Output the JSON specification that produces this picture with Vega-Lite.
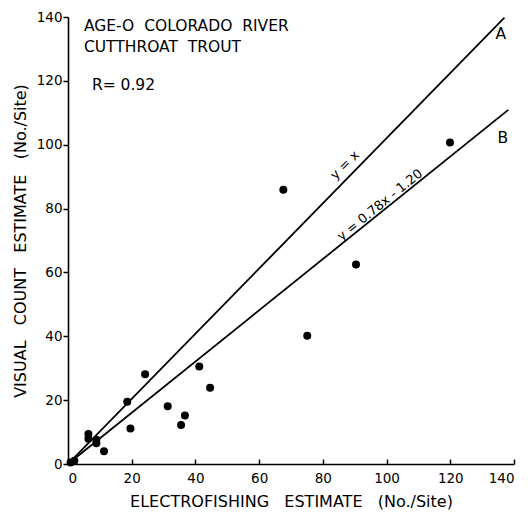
{
  "$schema": "https://vega.github.io/schema/vega-lite/v6.json",
  "width": 446,
  "height": 447,
  "autosize": {"type": "none"},
  "padding": {"left": 68, "top": 17, "right": 14, "bottom": 52},
  "background": "white",
  "config": {
    "view": {"stroke": null},
    "font": "DejaVu Sans",
    "axis": {
      "grid": false,
      "domainColor": "black",
      "domainWidth": 1.6,
      "tickColor": "black",
      "tickWidth": 1.5,
      "labelColor": "black",
      "labelFont": "DejaVu Sans",
      "labelFontSize": 13.5,
      "titleColor": "black",
      "titleFont": "DejaVu Sans",
      "titleFontSize": 14,
      "titleFontWeight": "normal"
    }
  },
  "datasets": {
    "pts": [
      {"elec": 0.8, "vis": 0.5},
      {"elec": 2.0, "vis": 1.0},
      {"elec": 6.4, "vis": 9.4},
      {"elec": 6.4, "vis": 7.9},
      {"elec": 8.9, "vis": 7.6},
      {"elec": 8.9, "vis": 6.5},
      {"elec": 11.3, "vis": 4.0},
      {"elec": 18.6, "vis": 19.5},
      {"elec": 19.6, "vis": 11.1},
      {"elec": 24.2, "vis": 28.1},
      {"elec": 31.3, "vis": 18.1},
      {"elec": 35.5, "vis": 12.2},
      {"elec": 36.7, "vis": 15.2},
      {"elec": 41.2, "vis": 30.5},
      {"elec": 44.6, "vis": 23.9},
      {"elec": 67.6, "vis": 85.9},
      {"elec": 75.1, "vis": 40.2},
      {"elec": 90.4, "vis": 62.5},
      {"elec": 119.9, "vis": 100.7}
    ],
    "lines": [
      {"line": "A", "elec": 0, "vis": 0},
      {"line": "A", "elec": 137, "vis": 139.8},
      {"line": "B", "elec": 0, "vis": 0},
      {"line": "B", "elec": 138.2, "vis": 110.9}
    ],
    "notes": [
      {"elec": 5.0, "vis": 137.3, "txt": "AGE-O\u00a0\u00a0COLORADO\u00a0\u00a0RIVER"},
      {"elec": 5.0, "vis": 130.5, "txt": "CUTTHROAT\u00a0\u00a0TROUT"},
      {"elec": 7.5, "vis": 118.7, "txt": "R=\u00a00.92"},
      {"elec": 134.2, "vis": 134.7, "txt": "A"},
      {"elec": 134.8, "vis": 102.0, "txt": "B"}
    ],
    "eq1": [{"elec": 86.9, "vis": 93.6, "txt": "y = x"}],
    "eq2": [{"elec": 97.9, "vis": 81.1, "txt": "y = 0.78x - 1.20"}]
  },
  "layer": [
    {
      "data": {"name": "lines"},
      "mark": {"type": "line", "color": "black", "strokeWidth": 1.8, "clip": true},
      "encoding": {
        "x": {
          "field": "elec", "type": "quantitative",
          "scale": {"domain": [0, 140], "nice": false},
          "axis": {
            "values": [0, 10, 20, 30, 40, 50, 60, 70, 80, 90, 100, 110, 120, 130, 140],
            "labelExpr": "datum.value % 20 == 0 ? datum.label : ''",
            "tickSize": -5,
            "labelPadding": 12,
            "title": "ELECTROFISHING\u00a0\u00a0\u00a0ESTIMATE\u00a0\u00a0\u00a0(No./Site)",
            "titleFontSize": 16,
            "titlePadding": 9
          }
        },
        "y": {
          "field": "vis", "type": "quantitative",
          "scale": {"domain": [0, 140], "nice": false},
          "axis": {
            "values": [0, 10, 20, 30, 40, 50, 60, 70, 80, 90, 100, 110, 120, 130, 140],
            "labelExpr": "datum.value % 20 == 0 ? datum.label : ''",
            "tickSize": 5,
            "labelPadding": 1,
            "title": "VISUAL\u00a0\u00a0\u00a0COUNT\u00a0\u00a0\u00a0ESTIMATE\u00a0\u00a0\u00a0(No./Site)",
            "titleFontSize": 16,
            "titlePadding": 8
          }
        },
        "detail": {"field": "line", "type": "nominal"}
      }
    },
    {
      "data": {"name": "pts"},
      "mark": {"type": "circle", "color": "black", "opacity": 1, "size": 64},
      "encoding": {
        "x": {"field": "elec", "type": "quantitative"},
        "y": {"field": "vis", "type": "quantitative"}
      }
    },
    {
      "data": {"name": "notes"},
      "mark": {"type": "text", "align": "left", "baseline": "middle", "fontSize": 15.5, "color": "black", "font": "DejaVu Sans"},
      "encoding": {
        "x": {"field": "elec", "type": "quantitative"},
        "y": {"field": "vis", "type": "quantitative"},
        "text": {"field": "txt"}
      }
    },
    {
      "data": {"name": "eq1"},
      "mark": {"type": "text", "align": "center", "baseline": "middle", "fontSize": 13, "angle": 315, "color": "black"},
      "encoding": {
        "x": {"field": "elec", "type": "quantitative"},
        "y": {"field": "vis", "type": "quantitative"},
        "text": {"field": "txt"}
      }
    },
    {
      "data": {"name": "eq2"},
      "mark": {"type": "text", "align": "center", "baseline": "middle", "fontSize": 13, "angle": 321, "color": "black"},
      "encoding": {
        "x": {"field": "elec", "type": "quantitative"},
        "y": {"field": "vis", "type": "quantitative"},
        "text": {"field": "txt"}
      }
    }
  ]
}
